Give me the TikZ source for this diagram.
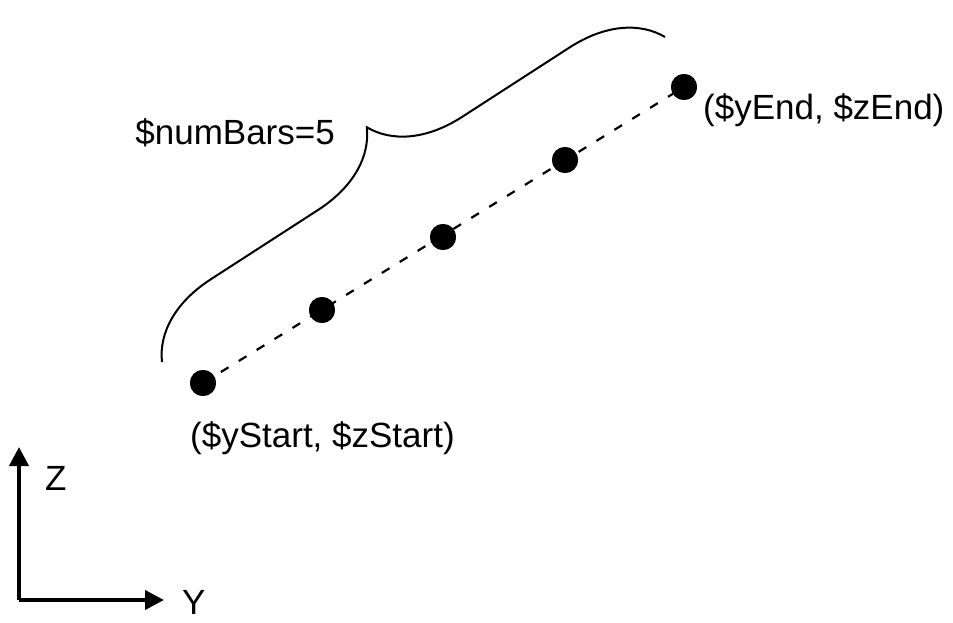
\documentclass[tikz,border=0pt]{standalone}
\usepackage{fontspec}
\setmainfont{Liberation Sans}
\usetikzlibrary{decorations.pathreplacing,arrows.meta}
\begin{document}
\begin{tikzpicture}[x=1pt,y=-1pt,
  lbl/.style={inner sep=0pt,font=\fontsize{35}{40}\selectfont},
  dot/.style={circle,fill=black,minimum size=26pt,inner sep=0pt},
  axis/.style={line width=4pt,-{Triangle[length=19pt,width=19pt]}},
  bracestyle/.style={line width=2pt,decorate,decoration={brace,amplitude=86pt,aspect=0.5}},
  dashline/.style={line width=2.2pt,dash pattern=on 9pt off 12pt}]
\useasboundingbox (0,0) rectangle (953,623);
% points
\node[dot] (p1) at (203,383) {};
\node[dot] (p2) at (322,310) {};
\node[dot] (p3) at (443,237) {};
\node[dot] (p4) at (565,160) {};
\node[dot] (p5) at (684,87) {};
\draw[dashline] (p1.center) -- (p5.center);
\node[dot] at (p1) {};
\node[dot] at (p2) {};
\node[dot] at (p3) {};
\node[dot] at (p4) {};
\node[dot] at (p5) {};
% brace
\coordinate (b1) at (162,362);
\coordinate (b2) at (665,37);
\draw[bracestyle] (b1) -- (b2);
% labels
\node[lbl,anchor=base east] (nb) at (335,145) {\$numBars=5};
\node[lbl,anchor=base west] (le) at (703,120) {(\$yEnd, \$zEnd)};
\node[lbl,anchor=base west] (ls) at (190,447) {(\$yStart, \$zStart)};
% axes
\coordinate (o) at (19,600);
\coordinate (zt) at (19,447);
\coordinate (yt) at (164,600);
\draw[axis] (o) -- (zt);
\draw[axis] (o) -- (yt);
\node[lbl,anchor=base west] (zl) at (45,490) {Z};
\node[lbl,anchor=base west] (yl) at (182,614) {Y};
\end{tikzpicture}
\end{document}
